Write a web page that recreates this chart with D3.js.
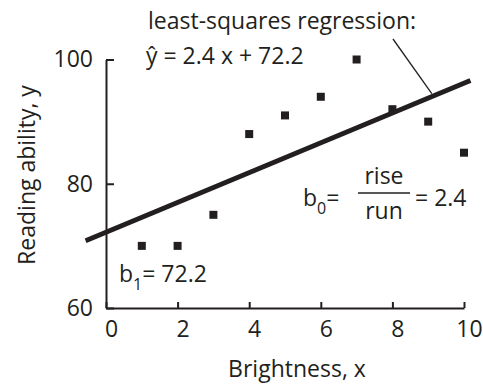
<!DOCTYPE html>
<html>
<head>
<meta charset="utf-8">
<script src="https://cdn.jsdelivr.net/npm/d3@7"></script>
<style>
  html, body { margin: 0; padding: 0; background: #fff; }
  svg { display: block; }
  text, tspan { font-family: "Open Sans", sans-serif; fill: #231f20; }
</style>
</head>
<body>
<svg id="chart" width="483" height="385"></svg>
<script>
// Brightness vs. reading ability
const brightness = [1, 2, 3, 4, 5, 6, 7, 8, 9, 10];
const reading = [70, 70, 75, 88, 91, 94, 100, 92, 90, 85];
const xTickValues = [0, 2, 4, 6, 8, 10];
const yTickValues = [60, 80, 100];
// least-squares fit: y-hat = slope * x + intercept
const slope = 2.4;
const intercept = 72.2;
const fitRange = [-0.57, 10.18];

const ink = "#231f20";
const fontSize = 23;
const svg = d3.select("#chart");

const x = d3.scaleLinear().domain([0, 10]).range([106, 464]);
const y = d3.scaleLinear().domain([60, 100]).range([308, 59.5]);

// x axis, ticks pointing into the plot
const gx = svg.append("g")
  .attr("transform", `translate(0,${y(60)})`)
  .call(d3.axisBottom(x).tickValues(xTickValues).tickSizeInner(-6).tickSizeOuter(0).tickPadding(12.7));
// y axis, ticks pointing into the plot
const gy = svg.append("g")
  .attr("transform", `translate(${x(0)},0)`)
  .call(d3.axisLeft(y).tickValues(yTickValues).tickSizeInner(-8).tickSizeOuter(0).tickPadding(13));

[gx, gy].forEach(g => {
  g.select(".domain").attr("stroke", ink).attr("stroke-width", 2);
  g.selectAll(".tick line").attr("stroke", ink).attr("stroke-width", 2);
  g.selectAll(".tick text").attr("font-size", fontSize).attr("font-family", '"Open Sans", sans-serif').attr("fill", ink);
});
gx.selectAll(".tick text").attr("dx", 5);

// axis titles
svg.append("text")
  .attr("x", 297).attr("y", 377)
  .attr("text-anchor", "middle").attr("font-size", fontSize)
  .text("Brightness, x");
svg.append("text")
  .attr("transform", `translate(35,175) rotate(-90)`)
  .attr("text-anchor", "middle").attr("font-size", fontSize)
  .text("Reading ability, y");

// regression line
svg.append("line")
  .attr("x1", x(fitRange[0])).attr("y1", y(slope * fitRange[0] + intercept))
  .attr("x2", x(fitRange[1])).attr("y2", y(slope * fitRange[1] + intercept))
  .attr("stroke", ink).attr("stroke-width", 4.8);

// observations
svg.append("g").selectAll("rect")
  .data(brightness.map((b, i) => [b, reading[i]]))
  .join("rect")
  .attr("x", d => x(d[0]) - 4).attr("y", d => y(d[1]) - 4)
  .attr("width", 8).attr("height", 8)
  .attr("fill", ink);

// annotation: regression label with pointer to the fitted line
svg.append("text")
  .attr("x", 148).attr("y", 28.5).attr("font-size", fontSize)
  .text("least-squares regression:");
svg.append("text")
  .attr("x", 146).attr("y", 63.5).attr("font-size", fontSize)
  .text(`ŷ = ${slope} x + ${intercept}`);
const pointerAt = 9.1;
svg.append("line")
  .attr("x1", 393).attr("y1", 39)
  .attr("x2", x(pointerAt)).attr("y2", y(slope * pointerAt + intercept) - 3)
  .attr("stroke", ink).attr("stroke-width", 1.3);

// slope label: b0 = rise / run = 2.4
const b0 = svg.append("text").attr("x", 303).attr("y", 206).attr("font-size", fontSize).attr("fill", ink);
b0.append("tspan").text("b");
b0.append("tspan").attr("font-size", 16).attr("dy", 8).attr("fill", ink).text("0");
b0.append("tspan").attr("dy", -8).text("=");
svg.append("text").attr("x", 384).attr("y", 184).attr("font-size", fontSize).attr("text-anchor", "middle").text("rise");
svg.append("line").attr("x1", 358).attr("x2", 410).attr("y1", 193).attr("y2", 193)
  .attr("stroke", ink).attr("stroke-width", 1.3);
svg.append("text").attr("x", 384).attr("y", 219).attr("font-size", fontSize).attr("text-anchor", "middle").text("run");
svg.append("text").attr("x", 415).attr("y", 206).attr("font-size", fontSize).text(`= ${slope}`);

// intercept label: b1 = 72.2
const b1 = svg.append("text").attr("x", 119).attr("y", 282).attr("font-size", fontSize).attr("fill", ink);
b1.append("tspan").text("b");
b1.append("tspan").attr("font-size", 16).attr("dy", 8).attr("fill", ink).text("1");
b1.append("tspan").attr("dy", -8).text(`= ${intercept}`);
</script>
</body>
</html>
